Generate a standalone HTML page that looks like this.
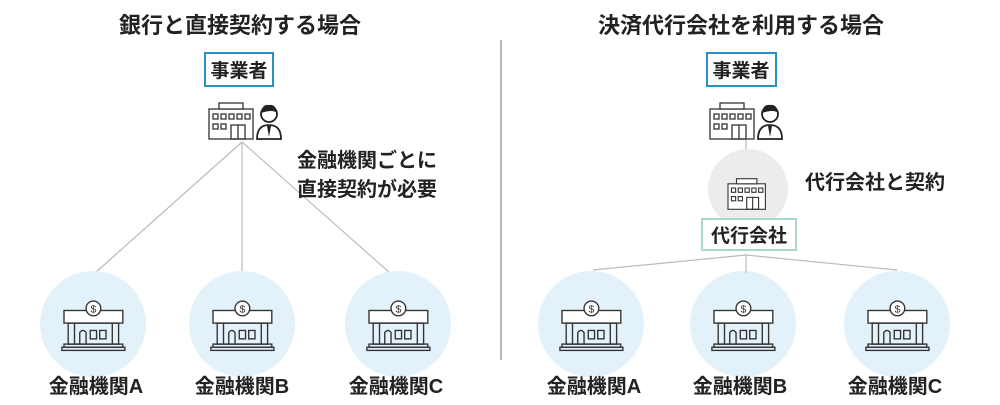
<!DOCTYPE html>
<html><head><meta charset="utf-8"><style>
html,body{margin:0;padding:0;background:#fff;}
svg text{font-family:"Liberation Sans","Noto Sans CJK JP",sans-serif;font-weight:bold;fill:#222;}
</style></head><body>
<svg width="1000" height="400" viewBox="0 0 1000 400" xmlns="http://www.w3.org/2000/svg">
<defs>
<g id="bld" fill="none" stroke="#333" stroke-width="1.3">
  <rect x="0" y="8" width="44" height="30" fill="#fff"/>
  <rect x="10" y="2" width="24" height="6" fill="#fff"/>
  <rect x="4" y="13" width="5" height="5"/><rect x="12" y="13" width="5" height="5"/><rect x="20" y="13" width="5" height="5"/><rect x="28" y="13" width="5" height="5"/><rect x="36" y="13" width="5" height="5"/>
  <rect x="4" y="23" width="5" height="5"/><rect x="12" y="23" width="5" height="5"/>
  <rect x="22" y="24" width="14" height="14"/><line x1="29" y1="24" x2="29" y2="38"/>
</g>
<g id="person">
  <path d="M0 38 Q0 24 12 24 Q24 24 24 38 Z" fill="#fff" stroke="#222" stroke-width="1.8"/>
  <path d="M10 25 L12 36 L14 25 Z" fill="#222"/>
  <circle cx="12" cy="13" r="8" fill="#fff" stroke="#222" stroke-width="1.8"/>
  <path d="M4 12 Q5 3 12 4 Q19 3 20 12 Q16 8 4 12 Z" fill="#222"/>
</g>
<g id="bank" fill="none" stroke="#333" stroke-width="1.3">
  <rect x="0" y="10" width="56" height="12" fill="#fff"/>
  <circle cx="28" cy="8" r="7" fill="#fff"/>
  <text x="28" y="12" font-size="10" text-anchor="middle" style="font-weight:normal;fill:#333" stroke="none">$</text>
  <rect x="4" y="22" width="48" height="20"/>
  <line x1="10" y1="22" x2="10" y2="42"/><line x1="46" y1="22" x2="46" y2="42"/>
  <path d="M15 42 V31 Q18 27 21 31 V42"/>
  <rect x="25" y="29" width="6" height="8"/><rect x="34" y="29" width="6" height="8"/>
  <rect x="0" y="42" width="56" height="3"/><rect x="-2" y="45" width="60" height="3"/>
</g>
</defs>

<text x="240" y="33" font-size="22" text-anchor="middle">銀行と直接契約する場合</text>
<text x="741" y="33" font-size="22" text-anchor="middle">決済代行会社を利用する場合</text>
<line x1="501" y1="40" x2="501" y2="360" stroke="#888" stroke-width="1.2"/>

<!-- Left -->
<rect x="205" y="53" width="68" height="33" fill="#fff" stroke="#2a8fc7" stroke-width="2"/>
<text x="239" y="77" font-size="19" text-anchor="middle">事業者</text>
<use href="#bld" x="209" y="101"/>
<use href="#person" x="257" y="101"/>
<g stroke="#bbb" stroke-width="1.2">
<line x1="242" y1="142" x2="95" y2="273"/>
<line x1="242" y1="142" x2="242" y2="273"/>
<line x1="242" y1="142" x2="390" y2="273"/>
</g>
<text x="297" y="167" font-size="20">金融機関ごとに</text>
<text x="297" y="196" font-size="20">直接契約が必要</text>

<g fill="#e3f1fa">
<circle cx="93" cy="324" r="53"/><circle cx="242" cy="324" r="53"/><circle cx="398" cy="324" r="53"/>
<circle cx="591" cy="324" r="53"/><circle cx="743" cy="324" r="53"/><circle cx="897" cy="324" r="53"/>
</g>
<g transform="translate(64,300) scale(1.05)"><use href="#bank"/></g>
<g transform="translate(213,300) scale(1.05)"><use href="#bank"/></g>
<g transform="translate(369,300) scale(1.05)"><use href="#bank"/></g>
<g transform="translate(562,300) scale(1.05)"><use href="#bank"/></g>
<g transform="translate(714,300) scale(1.05)"><use href="#bank"/></g>
<g transform="translate(868,300) scale(1.05)"><use href="#bank"/></g>
<g font-size="20" text-anchor="middle">
<text x="96" y="393">金融機関A</text><text x="242" y="393">金融機関B</text><text x="396" y="393">金融機関C</text>
<text x="594" y="393">金融機関A</text><text x="740" y="393">金融機関B</text><text x="895" y="393">金融機関C</text>
</g>

<!-- Right -->
<rect x="707" y="53" width="69" height="33" fill="#fff" stroke="#2a8fc7" stroke-width="2"/>
<text x="741" y="77" font-size="19" text-anchor="middle">事業者</text>
<use href="#bld" x="710" y="101"/>
<use href="#person" x="758" y="101"/>
<line x1="746" y1="140" x2="746" y2="150" stroke="#bbb" stroke-width="1.2"/>
<circle cx="748" cy="189" r="40" fill="#ececec"/>
<g transform="translate(728,177) scale(0.85)"><use href="#bld"/></g>
<text x="805" y="189" font-size="20">代行会社と契約</text>
<g stroke="#bbb" stroke-width="1.2">
<line x1="746" y1="255" x2="593" y2="270"/>
<line x1="746" y1="255" x2="746" y2="273"/>
<line x1="746" y1="255" x2="897" y2="270"/>
</g>
<rect x="702" y="219" width="94" height="31" fill="#fff" stroke="#a8d8d0" stroke-width="2"/>
<text x="749" y="242" font-size="19" text-anchor="middle">代行会社</text>
</svg>
</body></html>
